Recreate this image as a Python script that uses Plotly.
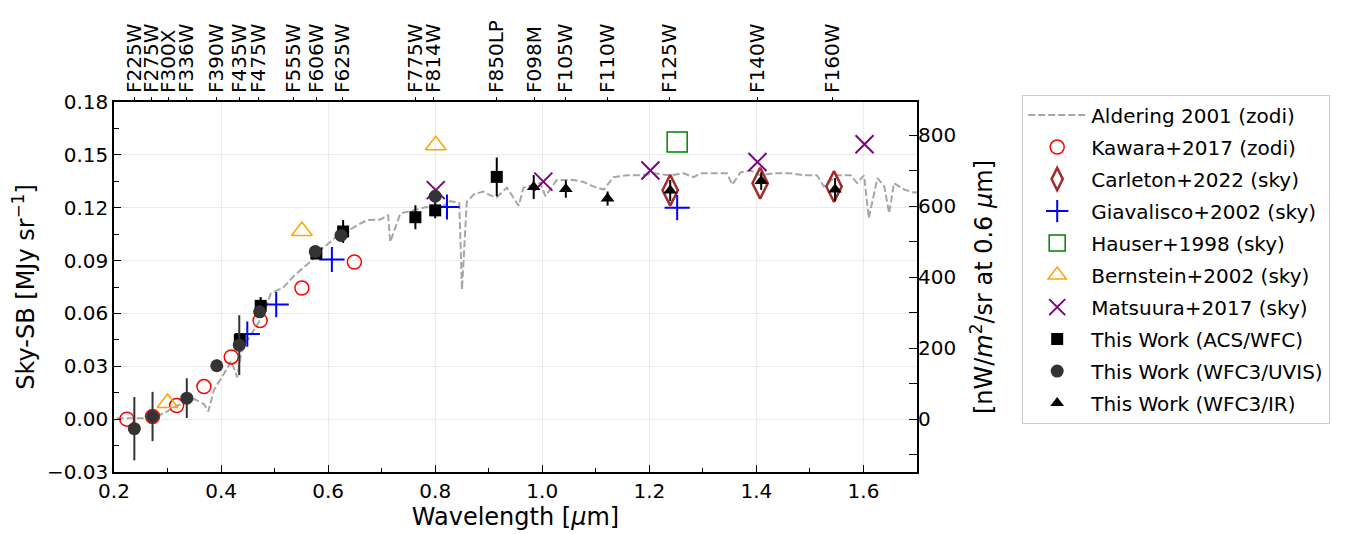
import plotly.graph_objects as go

# ---------------- data ----------------
filter_names = ["F225W", "F275W", "F300X", "F336W", "F390W", "F435W", "F475W", "F555W",
                "F606W", "F625W", "F775W", "F814W", "F850LP", "F098M", "F105W", "F110W",
                "F125W", "F140W", "F160W"]
filter_wave = [0.238, 0.270, 0.301, 0.336, 0.392, 0.434, 0.469, 0.535, 0.579, 0.626,
               0.763, 0.796, 0.914, 0.985, 1.044, 1.121, 1.237, 1.402, 1.542]

ald_wave = [0.205, 0.267, 0.293, 0.318, 0.350, 0.368, 0.376, 0.387, 0.406, 0.419, 0.430,
            0.439, 0.462, 0.480, 0.493, 0.516, 0.535, 0.548, 0.572, 0.585, 0.598, 0.617,
            0.635, 0.654, 0.673, 0.697, 0.712, 0.716, 0.735, 0.759, 0.784, 0.809, 0.828,
            0.845, 0.850, 0.859, 0.872, 0.890, 0.903, 0.915, 0.934, 0.956, 0.965, 0.996,
            1.006, 1.027, 1.059, 1.077, 1.096, 1.115, 1.133, 1.158, 1.183, 1.208, 1.239,
            1.264, 1.283, 1.295, 1.327, 1.345, 1.355, 1.370, 1.389, 1.407, 1.432, 1.464,
            1.488, 1.513, 1.526, 1.551, 1.576, 1.588, 1.601, 1.610, 1.626, 1.639, 1.648,
            1.657, 1.676, 1.694, 1.710]
ald_sb = [0.0005, 0.0005, 0.0032, 0.0077, 0.0114, 0.0086, 0.0043, 0.0168, 0.0260, 0.0330,
          0.0238, 0.0400, 0.0508, 0.0600, 0.0714, 0.0746, 0.0810, 0.0843, 0.0908, 0.0960,
          0.0990, 0.1040, 0.1065, 0.1100, 0.1130, 0.1132, 0.1157, 0.1005, 0.1168, 0.1185,
          0.1204, 0.1195, 0.1238, 0.1227, 0.0735, 0.1232, 0.1276, 0.1292, 0.1270, 0.1259,
          0.1314, 0.1211, 0.1314, 0.1340, 0.1265, 0.1357, 0.1357, 0.1346, 0.1320, 0.1303,
          0.1373, 0.1384, 0.1384, 0.1395, 0.1384, 0.1395, 0.1373, 0.1395, 0.1395, 0.1395,
          0.1330, 0.1400, 0.1411, 0.1384, 0.1395, 0.1395, 0.1384, 0.1384, 0.1320, 0.1384,
          0.1384, 0.1340, 0.1384, 0.1140, 0.1368, 0.1320, 0.1168, 0.1340, 0.1303, 0.1286,
          0.1290]

kawara_wave = [0.224, 0.272, 0.317, 0.368, 0.419, 0.473, 0.551, 0.649]
kawara_sb = [0.0000, 0.0015, 0.0077, 0.0185, 0.0353, 0.0560, 0.0744, 0.0892]

carleton_wave = [1.239, 1.407, 1.545]
carleton_sb = [0.1299, 0.1339, 0.1320]

giav_wave = [0.449, 0.503, 0.607, 0.822, 1.252]
giav_sb = [0.0483, 0.0650, 0.0906, 0.1204, 0.1200]

hauser_wave = [1.252]
hauser_sb = [0.1573]

bern_wave = [0.300, 0.551, 0.801]
bern_sb = [0.0092, 0.1068, 0.1555]

mats_wave = [0.801, 1.002, 1.202, 1.402, 1.602]
mats_sb = [0.1300, 0.1348, 0.1411, 0.1459, 0.1560]

acs_wave = [0.435, 0.474, 0.578, 0.628, 0.763, 0.800, 0.915]
acs_sb = [0.0449, 0.0643, 0.0940, 0.1065, 0.1146, 0.1185, 0.1375]
acs_err = [0.0030, 0.0050, 0.0020, 0.0065, 0.0068, 0.0045, 0.0110]

uvis_wave = [0.238, 0.272, 0.336, 0.392, 0.434, 0.472, 0.576, 0.624, 0.800]
uvis_sb = [-0.0054, 0.0015, 0.0119, 0.0303, 0.0420, 0.0609, 0.0951, 0.1043, 0.1265]
uvis_err = [0.0180, 0.0140, 0.0113, 0.0035, 0.0170, 0.0030, 0.0020, 0.0030, 0.0040]

ir_wave = [0.984, 1.044, 1.122, 1.239, 1.409, 1.547]
ir_sb = [0.1317, 0.1306, 0.1252, 0.1297, 0.1351, 0.1303]
ir_err = [0.0068, 0.0049, 0.0040, 0.0060, 0.0050, 0.0065]

# conversion MJy/sr -> nW/m2/sr at 0.6 um (right axis)
conv = 4966.0
y_range = [-0.03, 0.18]
x_range = [0.2, 1.7]

FONT = "DejaVu Sans"
TICK_SIZE = 20
TITLE_SIZE = 24

fig = go.Figure()

fig.add_trace(go.Scatter(x=ald_wave, y=ald_sb, mode="lines", name="Aldering 2001 (zodi)",
                         legendgroup="g0",
                         line=dict(color="#a6a6a6", width=2, dash="7px,3px")))
fig.add_trace(go.Scatter(x=kawara_wave, y=kawara_sb, mode="markers", name="Kawara+2017 (zodi)",
                         legendgroup="g1",
                         marker=dict(symbol="circle-open", size=14, color="red",
                                     line=dict(width=1.5, color="red"))))
fig.add_trace(go.Scatter(x=carleton_wave, y=carleton_sb, mode="markers", name="Carleton+2022 (sky)",
                         legendgroup="g2",
                         marker=dict(symbol="diamond-tall-open", size=22, color="#a52a2a",
                                     line=dict(width=2.5, color="#a52a2a"))))
fig.add_trace(go.Scatter(x=giav_wave, y=giav_sb, mode="markers", name="Giavalisco+2002 (sky)",
                         legendgroup="g3",
                         marker=dict(symbol="cross-thin-open", size=18, color="blue",
                                     line=dict(width=2, color="blue"))))
fig.add_trace(go.Scatter(x=hauser_wave, y=hauser_sb, mode="markers", name="Hauser+1998 (sky)",
                         legendgroup="g4",
                         marker=dict(symbol="square-open", size=20, color="green",
                                     line=dict(width=1.5, color="green"))))
fig.add_trace(go.Scatter(x=bern_wave, y=bern_sb, mode="markers", name="Bernstein+2002 (sky)",
                         legendgroup="g5",
                         marker=dict(symbol="triangle-up-open", size=18, color="orange",
                                     line=dict(width=1.5, color="orange"))))
fig.add_trace(go.Scatter(x=mats_wave, y=mats_sb, mode="markers", name="Matsuura+2017 (sky)",
                         legendgroup="g6",
                         marker=dict(symbol="x-thin-open", size=18, color="purple",
                                     line=dict(width=2, color="purple"))))
fig.add_trace(go.Scatter(x=acs_wave, y=acs_sb, mode="markers", name="This Work (ACS/WFC)",
                         legendgroup="g7",
                         marker=dict(symbol="square", size=12, color="black"),
                         error_y=dict(type="data", array=acs_err, color="black", thickness=2, width=0)))
fig.add_trace(go.Scatter(x=uvis_wave, y=uvis_sb, mode="markers", name="This Work (WFC3/UVIS)",
                         legendgroup="g8",
                         marker=dict(symbol="circle", size=13, color="#333333"),
                         error_y=dict(type="data", array=uvis_err, color="#333333", thickness=2, width=0)))
fig.add_trace(go.Scatter(x=ir_wave, y=ir_sb, mode="markers", name="This Work (WFC3/IR)",
                         legendgroup="g9",
                         marker=dict(symbol="triangle-up", size=12, color="black"),
                         error_y=dict(type="data", array=ir_err, color="black", thickness=2, width=0)))

# helper trace on top x-axis / right y-axis
fig.add_trace(go.Scatter(x=[x_range[0]], y=[None], xaxis="x2", yaxis="y2",
                         mode="markers", showlegend=False, hoverinfo="skip"))

tickfont = dict(family=FONT, size=TICK_SIZE, color="black")

fig.update_layout(
    width=1349, height=526,
    margin=dict(l=106, r=440, t=80, b=57),
    paper_bgcolor="white", plot_bgcolor="white",
    font=dict(family=FONT, color="black"),
    showlegend=True,
    legend=dict(x=1.131, y=1.02, xanchor="left", yanchor="top",
                font=dict(family=FONT, size=20, color="black"),
                bordercolor="#cccccc", borderwidth=1, bgcolor="white",
                itemwidth=58, tracegroupgap=3, maxheight=460),
    xaxis=dict(range=x_range, showline=True, linecolor="black", linewidth=1.5, mirror=True,
               ticks="inside", ticklen=7, tickwidth=1.2, tickcolor="black",
               tickvals=[0.2, 0.4, 0.6, 0.8, 1.0, 1.2, 1.4, 1.6],
               ticktext=["0.2", "0.4", "0.6", "0.8", "1.0", "1.2", "1.4", "1.6"],
               minor=dict(ticks="inside", ticklen=4, dtick=0.1, tickcolor="black", showgrid=False),
               showgrid=True, gridcolor="#ebebeb", gridwidth=1, zeroline=False,
               tickfont=tickfont,
               title=dict(text="Wavelength [<i>μ</i>m]", font=dict(family=FONT, size=TITLE_SIZE), standoff=2)),
    xaxis2=dict(range=x_range, overlaying="x", side="top", showline=False,
                tickmode="array", tickvals=filter_wave, ticktext=filter_names,
                tickangle=-90, ticks="outside", ticklen=4, tickcolor="black", tickwidth=1,
                showgrid=False, zeroline=False,
                tickfont=dict(family=FONT, size=TICK_SIZE, color="black")),
    yaxis=dict(range=y_range, showline=True, linecolor="black", linewidth=1.5, mirror=True,
               ticks="inside", ticklen=7, tickwidth=1.2, tickcolor="black",
               tickvals=[-0.03, 0.0, 0.03, 0.06, 0.09, 0.12, 0.15, 0.18],
               ticktext=["\u22120.03", "0.00", "0.03", "0.06", "0.09", "0.12", "0.15", "0.18"],
               minor=dict(ticks="inside", ticklen=5, dtick=0.015, tick0=0, tickcolor="black", showgrid=False),
               showgrid=True, gridcolor="#ebebeb", gridwidth=1, zeroline=False,
               tickfont=tickfont,
               title=dict(text="Sky-SB [MJy sr<sup>\u22121</sup>]", font=dict(family=FONT, size=TITLE_SIZE), standoff=8)),
    yaxis2=dict(range=[y_range[0] * conv, y_range[1] * conv], overlaying="y", side="right",
                showline=False, ticks="inside", ticklen=8, tickwidth=1.2, tickcolor="black",
                tickvals=[0, 200, 400, 600, 800],
                minor=dict(ticks="inside", ticklen=8, dtick=100, tick0=0, tickcolor="black", showgrid=False),
                showgrid=False, zeroline=False, tickfont=tickfont,
                title=dict(text="[nW/<i>m</i><sup>2</sup>/sr at 0.6 <i>μ</i>m]",
                           font=dict(family=FONT, size=TITLE_SIZE), standoff=20)),
)

fig.write_html("out.html")
